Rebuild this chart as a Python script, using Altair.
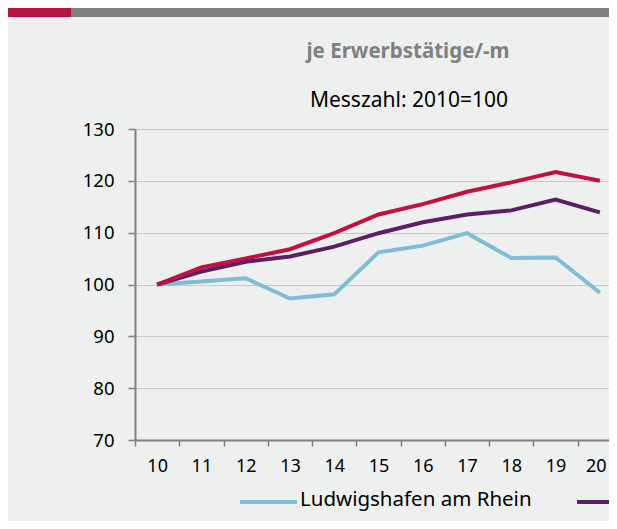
import altair as alt
import pandas as pd

years = ["10", "11", "12", "13", "14", "15", "16", "17", "18", "19", "20"]
ludwigshafen = [100, 100.6, 101.2, 97.3, 98.1, 106.2, 107.5, 109.9, 105.1, 105.2, 98.4]
rheinland_pfalz = [100, 102.5, 104.4, 105.4, 107.3, 109.9, 112.0, 113.5, 114.3, 116.4, 113.9]
deutschland = [100, 103.3, 105.0, 106.8, 109.9, 113.5, 115.5, 117.9, 119.7, 121.7, 120.0]
series_names = ["Ludwigshafen am Rhein", "Rheinland-Pfalz", "Deutschland"]
series_colors = ["#7fbcd8", "#5b1f63", "#c3113f"]
y_ticks = [70, 80, 90, 100, 110, 120, 130]
title_text = "je Erwerbstätige/-m"
subtitle_text = "Messzahl: 2010=100"

FONT = "Noto Sans"
GREY = "#808080"

xscale = alt.Scale(domain=years, range=[0, 487], paddingInner=0, paddingOuter=0, type="band")
yscale = alt.Scale(domain=[70, 130], nice=False, zero=False)

x_axis = alt.Axis(tickBand="extent", tickSize=6, tickColor=GREY, tickWidth=1.5,
                  domainColor=GREY, domainWidth=2, labelAngle=0, labelFontSize=18,
                  labelPadding=11,
                  labelOffset={"condition": {"test": "datum.value === '20'", "value": -4}, "value": 0},
                  labelFont=FONT, labelColor="#000000",
                  title=None, grid=False)
y_axis = alt.Axis(values=y_ticks, tickSize=7, tickColor=GREY, tickWidth=1.5,
                  domainColor=GREY, domainWidth=2, grid=True, gridColor="#c8c8c8",
                  gridWidth=1, labelFontSize=18.5, labelPadding=14, labelFont=FONT,
                  labelColor="#000000", title=None)

series_values = [ludwigshafen, rheinland_pfalz, deutschland]

layers = []
# top decoration bar
bar_df = pd.DataFrame({"k": [0]})
layers.append(alt.Chart(bar_df).mark_rect(color=GREY).encode(
    x=alt.value(-64), x2=alt.value(490), y=alt.value(-130), y2=alt.value(-112)))
layers.append(alt.Chart(bar_df).mark_rect(color="#b5123e").encode(
    x=alt.value(-131), x2=alt.value(-64), y=alt.value(-130), y2=alt.value(-112)))

for name, vals, col in zip(series_names, series_values, series_colors):
    df = pd.DataFrame({"Jahr": years, "Wert": vals, "Reihe": name})
    layers.append(
        alt.Chart(df).mark_line(color=col, strokeWidth=4, strokeJoin="miter").encode(
            x=alt.X("Jahr:N", scale=xscale, sort=years, bandPosition=0.5, axis=x_axis),
            y=alt.Y("Wert:Q", scale=yscale, axis=y_axis),
        )
    )

# titles
layers.append(alt.Chart(pd.DataFrame({"t": [title_text]})).mark_text(
    font=FONT, fontSize=20.5, fontWeight="bold", color=GREY, align="center", baseline="middle"
).encode(x=alt.value(273), y=alt.value(-77), text="t:N"))
layers.append(alt.Chart(pd.DataFrame({"t": [subtitle_text]})).mark_text(
    font=FONT, fontSize=21, color="#000000", align="center", baseline="middle"
).encode(x=alt.value(274), y=alt.value(-28), text="t:N"))

# manual legend (only the part that is visible in the cropped picture)
ldf = pd.DataFrame({"t": [series_names[0]]})
layers.append(alt.Chart(ldf).mark_rule(color=series_colors[0], strokeWidth=4).encode(
    x=alt.value(105), x2=alt.value(162), y=alt.value(373)))
layers.append(alt.Chart(ldf).mark_text(
    font=FONT, fontSize=20.5, color="#000000", align="left", baseline="middle"
).encode(x=alt.value(165), y=alt.value(371), text="t:N"))
ldf2 = pd.DataFrame({"t": [series_names[1]]})
layers.append(alt.Chart(ldf2).mark_rule(color=series_colors[1], strokeWidth=4).encode(
    x=alt.value(442), x2=alt.value(499), y=alt.value(373)))

chart = alt.layer(*layers).properties(
    width=474, height=311,
    padding={"left": 127, "top": 121, "right": 0, "bottom": 81},
    autosize=alt.AutoSizeParams(type="none"),
    background="#eef0ef",
).configure_view(stroke=None)

chart.save("out.html", embed_options={"renderer": "svg", "actions": False})
